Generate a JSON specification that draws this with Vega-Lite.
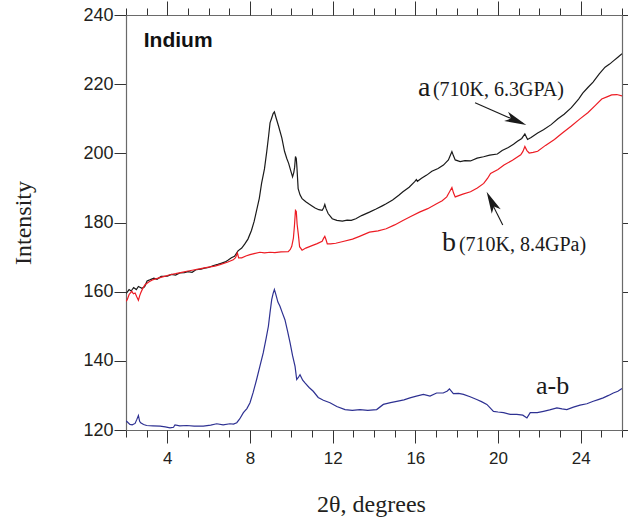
{
  "$schema": "https://vega.github.io/schema/vega-lite/v6.json",
  "autosize": {"type": "none"},
  "padding": {"left": 126, "top": 15, "right": 6, "bottom": 91},
  "width": 496,
  "height": 415,
  "background": "white",
  "config": {
    "view": {"stroke": null},
    "axis": {"grid": false, "domainColor": "#6a6a6a", "domainWidth": 1.2, "tickColor": "#333333", "tickWidth": 1, "labelColor": "#231f20", "labelFont": "Liberation Sans", "labelFlush": false, "labelOverlap": false, "titleColor": "#231f20"}
  },
  "datasets": {
    "a": [
      {"x":2.0,"y":159.5},{"x":2.05,"y":159.8},{"x":2.15,"y":160.6},{"x":2.25,"y":160.2},{"x":2.37,"y":161.2},{"x":2.5,"y":160.6},{"x":2.6,"y":161.5},{"x":2.77,"y":161.0},{"x":2.9,"y":161.4},{"x":3.02,"y":163.1},{"x":3.15,"y":163.4},{"x":3.35,"y":163.9},{"x":3.5,"y":163.6},{"x":3.7,"y":164.4},{"x":4.0,"y":164.5},{"x":4.2,"y":165.0},{"x":4.4,"y":164.8},{"x":4.6,"y":165.4},{"x":4.82,"y":165.5},{"x":5.0,"y":165.8},{"x":5.2,"y":165.6},{"x":5.4,"y":166.4},{"x":5.63,"y":166.5},{"x":5.8,"y":166.8},{"x":6.0,"y":167.0},{"x":6.2,"y":167.5},{"x":6.44,"y":167.9},{"x":6.6,"y":168.2},{"x":6.8,"y":168.6},{"x":6.93,"y":169.1},{"x":7.1,"y":169.8},{"x":7.25,"y":170.2},{"x":7.42,"y":171.8},{"x":7.6,"y":172.6},{"x":7.75,"y":173.8},{"x":7.9,"y":175.2},{"x":8.07,"y":177.7},{"x":8.2,"y":180.3},{"x":8.32,"y":183.5},{"x":8.45,"y":187.0},{"x":8.56,"y":191.3},{"x":8.7,"y":195.5},{"x":8.81,"y":200.5},{"x":8.9,"y":205.0},{"x":8.97,"y":208.8},{"x":9.05,"y":210.2},{"x":9.12,"y":211.5},{"x":9.18,"y":212.0},{"x":9.25,"y":210.5},{"x":9.38,"y":207.9},{"x":9.54,"y":204.5},{"x":9.67,"y":200.6},{"x":9.78,"y":198.5},{"x":9.87,"y":197.1},{"x":9.97,"y":195.0},{"x":10.06,"y":193.2},{"x":10.12,"y":194.5},{"x":10.16,"y":196.0},{"x":10.2,"y":199.1},{"x":10.24,"y":198.5},{"x":10.27,"y":196.0},{"x":10.33,"y":189.8},{"x":10.42,"y":188.0},{"x":10.52,"y":186.9},{"x":10.7,"y":186.0},{"x":10.84,"y":185.4},{"x":11.0,"y":184.8},{"x":11.15,"y":184.2},{"x":11.33,"y":183.7},{"x":11.49,"y":183.5},{"x":11.56,"y":184.2},{"x":11.62,"y":185.2},{"x":11.68,"y":184.0},{"x":11.78,"y":182.6},{"x":11.98,"y":181.1},{"x":12.2,"y":180.6},{"x":12.47,"y":180.4},{"x":12.7,"y":180.7},{"x":12.9,"y":180.6},{"x":13.12,"y":181.1},{"x":13.4,"y":182.0},{"x":13.78,"y":183.0},{"x":14.1,"y":183.9},{"x":14.4,"y":184.8},{"x":14.59,"y":185.4},{"x":14.9,"y":186.5},{"x":15.2,"y":187.9},{"x":15.4,"y":188.9},{"x":15.7,"y":190.2},{"x":15.97,"y":191.8},{"x":16.05,"y":192.4},{"x":16.1,"y":191.9},{"x":16.3,"y":192.8},{"x":16.55,"y":193.7},{"x":16.8,"y":194.8},{"x":17.1,"y":195.6},{"x":17.36,"y":196.6},{"x":17.6,"y":198.1},{"x":17.7,"y":199.5},{"x":17.77,"y":200.5},{"x":17.85,"y":199.2},{"x":17.93,"y":198.1},{"x":18.17,"y":197.6},{"x":18.4,"y":197.9},{"x":18.67,"y":197.8},{"x":18.99,"y":198.6},{"x":19.3,"y":199.0},{"x":19.6,"y":199.5},{"x":19.97,"y":199.8},{"x":20.2,"y":200.8},{"x":20.5,"y":201.7},{"x":20.75,"y":202.6},{"x":20.94,"y":203.5},{"x":21.15,"y":204.3},{"x":21.3,"y":205.6},{"x":21.43,"y":204.0},{"x":21.6,"y":204.6},{"x":21.92,"y":205.9},{"x":22.2,"y":206.8},{"x":22.57,"y":208.3},{"x":22.9,"y":210.0},{"x":23.2,"y":211.3},{"x":23.55,"y":213.2},{"x":23.9,"y":215.7},{"x":24.1,"y":217.4},{"x":24.36,"y":219.1},{"x":24.6,"y":220.6},{"x":24.9,"y":223.0},{"x":25.18,"y":224.9},{"x":25.4,"y":225.8},{"x":25.6,"y":226.8},{"x":25.8,"y":227.8},{"x":26.0,"y":228.8}
    ],
    "b": [
      {"x":2.0,"y":157.2},{"x":2.06,"y":157.7},{"x":2.15,"y":159.2},{"x":2.28,"y":160.1},{"x":2.36,"y":159.4},{"x":2.44,"y":159.6},{"x":2.52,"y":158.5},{"x":2.6,"y":157.5},{"x":2.66,"y":158.8},{"x":2.71,"y":159.6},{"x":2.8,"y":160.8},{"x":2.92,"y":162.0},{"x":3.1,"y":162.8},{"x":3.32,"y":163.5},{"x":3.6,"y":164.0},{"x":3.9,"y":164.5},{"x":4.13,"y":164.9},{"x":4.4,"y":165.2},{"x":4.7,"y":165.6},{"x":4.94,"y":165.9},{"x":5.2,"y":166.2},{"x":5.5,"y":166.5},{"x":5.74,"y":166.8},{"x":6.0,"y":167.1},{"x":6.3,"y":167.4},{"x":6.55,"y":167.8},{"x":6.9,"y":168.5},{"x":7.19,"y":169.2},{"x":7.3,"y":169.8},{"x":7.39,"y":171.2},{"x":7.45,"y":169.8},{"x":7.6,"y":169.8},{"x":7.8,"y":170.3},{"x":8.0,"y":170.7},{"x":8.2,"y":171.0},{"x":8.48,"y":171.4},{"x":8.7,"y":171.2},{"x":8.97,"y":171.4},{"x":9.2,"y":171.3},{"x":9.5,"y":171.5},{"x":9.85,"y":171.6},{"x":9.95,"y":172.2},{"x":10.02,"y":173.1},{"x":10.1,"y":175.5},{"x":10.15,"y":179.0},{"x":10.2,"y":183.5},{"x":10.24,"y":183.2},{"x":10.28,"y":179.5},{"x":10.34,"y":176.5},{"x":10.4,"y":173.0},{"x":10.52,"y":172.0},{"x":10.7,"y":172.6},{"x":11.0,"y":173.3},{"x":11.25,"y":173.9},{"x":11.49,"y":174.6},{"x":11.56,"y":175.4},{"x":11.62,"y":176.0},{"x":11.68,"y":175.0},{"x":11.74,"y":173.8},{"x":11.9,"y":173.8},{"x":12.15,"y":174.0},{"x":12.5,"y":174.5},{"x":12.96,"y":175.2},{"x":13.3,"y":176.0},{"x":13.78,"y":177.2},{"x":14.2,"y":177.6},{"x":14.59,"y":178.2},{"x":15.0,"y":179.3},{"x":15.4,"y":180.6},{"x":15.8,"y":181.8},{"x":16.2,"y":183.0},{"x":16.6,"y":184.0},{"x":17.03,"y":185.4},{"x":17.3,"y":186.3},{"x":17.52,"y":187.4},{"x":17.65,"y":188.8},{"x":17.77,"y":190.1},{"x":17.85,"y":188.5},{"x":17.93,"y":187.4},{"x":18.3,"y":188.2},{"x":18.67,"y":188.9},{"x":19.0,"y":190.0},{"x":19.31,"y":191.3},{"x":19.5,"y":192.8},{"x":19.64,"y":194.2},{"x":20.0,"y":195.3},{"x":20.29,"y":196.6},{"x":20.7,"y":198.0},{"x":21.1,"y":199.6},{"x":21.2,"y":200.5},{"x":21.3,"y":202.0},{"x":21.4,"y":200.8},{"x":21.51,"y":200.1},{"x":21.7,"y":200.3},{"x":21.92,"y":200.6},{"x":22.3,"y":202.3},{"x":22.73,"y":204.0},{"x":23.1,"y":205.8},{"x":23.55,"y":207.9},{"x":23.95,"y":209.9},{"x":24.36,"y":211.8},{"x":24.7,"y":213.8},{"x":25.02,"y":215.7},{"x":25.3,"y":216.4},{"x":25.5,"y":216.9},{"x":25.75,"y":217.0},{"x":26.0,"y":216.6}
    ],
    "ab": [
      {"x":2.0,"y":122.6},{"x":2.03,"y":122.5},{"x":2.19,"y":121.6},{"x":2.3,"y":121.5},{"x":2.44,"y":121.9},{"x":2.52,"y":123.0},{"x":2.6,"y":124.2},{"x":2.66,"y":122.5},{"x":2.71,"y":122.1},{"x":2.85,"y":121.6},{"x":3.0,"y":121.3},{"x":3.3,"y":121.2},{"x":3.65,"y":121.1},{"x":3.9,"y":120.9},{"x":4.13,"y":120.6},{"x":4.3,"y":120.8},{"x":4.37,"y":121.5},{"x":4.6,"y":121.2},{"x":4.94,"y":121.3},{"x":5.3,"y":121.1},{"x":5.74,"y":121.1},{"x":6.1,"y":121.4},{"x":6.39,"y":121.8},{"x":6.7,"y":121.5},{"x":7.03,"y":121.8},{"x":7.2,"y":121.7},{"x":7.36,"y":122.1},{"x":7.5,"y":123.2},{"x":7.68,"y":125.0},{"x":7.85,"y":126.2},{"x":8.0,"y":127.9},{"x":8.15,"y":130.8},{"x":8.32,"y":134.6},{"x":8.48,"y":138.5},{"x":8.64,"y":142.3},{"x":8.78,"y":146.5},{"x":8.89,"y":150.0},{"x":8.97,"y":154.0},{"x":9.05,"y":157.7},{"x":9.12,"y":159.5},{"x":9.18,"y":160.6},{"x":9.25,"y":159.2},{"x":9.35,"y":157.0},{"x":9.45,"y":155.8},{"x":9.57,"y":153.8},{"x":9.69,"y":151.9},{"x":9.82,"y":148.5},{"x":9.94,"y":145.2},{"x":10.06,"y":141.5},{"x":10.18,"y":138.4},{"x":10.26,"y":134.6},{"x":10.34,"y":135.2},{"x":10.42,"y":136.0},{"x":10.55,"y":134.4},{"x":10.66,"y":133.6},{"x":10.86,"y":132.3},{"x":11.06,"y":131.2},{"x":11.3,"y":129.4},{"x":11.55,"y":128.6},{"x":11.87,"y":127.9},{"x":12.2,"y":126.8},{"x":12.6,"y":125.9},{"x":12.95,"y":125.7},{"x":13.32,"y":125.9},{"x":13.7,"y":125.7},{"x":14.13,"y":125.9},{"x":14.45,"y":127.4},{"x":14.8,"y":127.9},{"x":15.1,"y":128.3},{"x":15.45,"y":128.7},{"x":15.74,"y":129.3},{"x":16.05,"y":129.8},{"x":16.39,"y":130.3},{"x":16.71,"y":129.8},{"x":17.03,"y":130.7},{"x":17.35,"y":130.7},{"x":17.55,"y":131.3},{"x":17.65,"y":131.9},{"x":17.84,"y":130.5},{"x":18.1,"y":130.6},{"x":18.33,"y":130.3},{"x":18.65,"y":129.6},{"x":18.97,"y":128.8},{"x":19.2,"y":128.2},{"x":19.46,"y":127.4},{"x":19.62,"y":126.4},{"x":19.78,"y":125.4},{"x":20.0,"y":125.2},{"x":20.27,"y":125.0},{"x":20.6,"y":124.5},{"x":20.91,"y":124.5},{"x":21.2,"y":124.3},{"x":21.4,"y":123.5},{"x":21.56,"y":125.0},{"x":21.9,"y":125.0},{"x":22.2,"y":125.4},{"x":22.5,"y":125.8},{"x":22.85,"y":126.4},{"x":23.1,"y":126.1},{"x":23.33,"y":125.9},{"x":23.65,"y":126.6},{"x":23.97,"y":127.2},{"x":24.3,"y":127.6},{"x":24.61,"y":128.3},{"x":24.85,"y":128.8},{"x":25.09,"y":129.3},{"x":25.35,"y":130.0},{"x":25.58,"y":130.7},{"x":25.8,"y":131.2},{"x":26.0,"y":132.0}
    ]
  },
  "layer": [
    {
      "data": {"name": "a"},
      "mark": {"type": "line", "color": "#1a1a1a", "strokeWidth": 1.2, "clip": true},
      "encoding": {
        "x": {"field": "x", "type": "quantitative", "scale": {"domain": [2, 26], "nice": false, "zero": false},
          "axis": {"orient": "bottom", "values": [4, 8, 12, 16, 20, 24], "tickSize": 13, "labelFontSize": 17, "labelPadding": 7,
            "title": "2θ, degrees", "titleFont": "Liberation Serif", "titleFontSize": 24, "titleFontWeight": "normal",
            "titleX": 245, "titleY": 81, "titleBaseline": "alphabetic", "titleAlign": "center", "titleAnchor": null}},
        "y": {"field": "y", "type": "quantitative", "scale": {"domain": [120, 240], "nice": false, "zero": false},
          "axis": {"orient": "left", "values": [120, 140, 160, 180, 200, 220, 240], "tickSize": 12, "labelFontSize": 18, "labelPadding": 1,
            "title": "Intensity", "titleFont": "Liberation Serif", "titleFontSize": 24, "titleFontWeight": "normal",
            "titleAngle": -90, "titleX": -96, "titleY": 207.5, "titleBaseline": "alphabetic", "titleAlign": "center", "titleAnchor": null}}
      }
    },
    {
      "data": {"name": "b"},
      "mark": {"type": "line", "color": "#ed1c24", "strokeWidth": 1.2, "clip": true},
      "encoding": {
        "x": {"field": "x", "type": "quantitative", "scale": {"domain": [2, 26], "nice": false, "zero": false},
          "axis": {"orient": "bottom", "values": [2,3,4,5,6,7,8,9,10,11,12,13,14,15,16,17,18,19,20,21,22,23,24,25,26], "tickSize": 7, "labels": false, "domain": false, "title": null}},
        "y": {"field": "y", "type": "quantitative", "scale": {"domain": [120, 240], "nice": false, "zero": false},
          "axis": {"orient": "right", "values": [120, 140, 160, 180, 200, 220, 240], "tickSize": 7, "labels": false, "domain": true, "title": null}}
      }
    },
    {
      "data": {"name": "ab"},
      "mark": {"type": "line", "color": "#2e3192", "strokeWidth": 1.2, "clip": true},
      "encoding": {
        "x": {"field": "x", "type": "quantitative", "scale": {"domain": [2, 26], "nice": false, "zero": false},
          "axis": {"orient": "top", "values": [2,3,4,5,6,7,8,9,10,11,12,13,14,15,16,17,18,19,20,21,22,23,24,25,26], "tickSize": 7, "labels": false, "domain": true, "title": null}},
        "y": {"field": "y", "type": "quantitative", "scale": {"domain": [120, 240], "nice": false, "zero": false}, "axis": null}
      }
    },
    {
      "data": {"values": [{"x": 2.86, "y": 230.8, "t": "Indium"}]},
      "mark": {"type": "text", "font": "Liberation Sans", "fontWeight": "bold", "fontSize": 21, "align": "left", "baseline": "alphabetic", "color": "#111111"},
      "encoding": {
        "x": {"field": "x", "type": "quantitative", "scale": {"domain": [2, 26], "nice": false, "zero": false},
          "axis": {"orient": "top", "values": [4, 8, 12, 16, 20, 24], "tickSize": 14, "labels": false, "domain": false, "title": null}},
        "y": {"field": "y", "type": "quantitative", "scale": {"domain": [120, 240], "nice": false, "zero": false}, "axis": null},
        "text": {"field": "t"}
      }
    },
    {
      "data": {"values": [{"x": 16.13, "y": 216.6, "t": "a"}, {"x": 17.29, "y": 171.8, "t": "b"}]},
      "mark": {"type": "text", "font": "Liberation Serif", "fontSize": 28, "align": "left", "baseline": "alphabetic", "color": "#1a1a1a"},
      "encoding": {
        "x": {"field": "x", "type": "quantitative", "scale": {"domain": [2, 26], "nice": false, "zero": false}, "axis": null},
        "y": {"field": "y", "type": "quantitative", "scale": {"domain": [120, 240], "nice": false, "zero": false}, "axis": null},
        "text": {"field": "t"}
      }
    },
    {
      "data": {"values": [{"x": 16.85, "y": 216.6, "t": "(710K, 6.3GPA)"}, {"x": 18.11, "y": 171.8, "t": "(710K, 8.4GPa)"}]},
      "mark": {"type": "text", "font": "Liberation Serif", "fontSize": 20, "align": "left", "baseline": "alphabetic", "color": "#1a1a1a"},
      "encoding": {
        "x": {"field": "x", "type": "quantitative", "scale": {"domain": [2, 26], "nice": false, "zero": false}, "axis": null},
        "y": {"field": "y", "type": "quantitative", "scale": {"domain": [120, 240], "nice": false, "zero": false}, "axis": null},
        "text": {"field": "t"}
      }
    },
    {
      "data": {"values": [{"x": 21.84, "y": 130.3, "t": "a-b"}]},
      "mark": {"type": "text", "font": "Liberation Serif", "fontSize": 26, "align": "left", "baseline": "alphabetic", "color": "#1a1a1a"},
      "encoding": {
        "x": {"field": "x", "type": "quantitative", "scale": {"domain": [2, 26], "nice": false, "zero": false}, "axis": null},
        "y": {"field": "y", "type": "quantitative", "scale": {"domain": [120, 240], "nice": false, "zero": false}, "axis": null},
        "text": {"field": "t"}
      }
    },
    {
      "data": {"values": [{"x": 18.89, "y": 214.6, "x2": 21.2, "y2": 208.6}, {"x": 20.23, "y": 179.3, "x2": 19.55, "y2": 187.4}]},
      "mark": {"type": "rule", "color": "#1a1a1a", "strokeWidth": 1.1},
      "encoding": {
        "x": {"field": "x", "type": "quantitative", "scale": {"domain": [2, 26], "nice": false, "zero": false}, "axis": null},
        "y": {"field": "y", "type": "quantitative", "scale": {"domain": [120, 240], "nice": false, "zero": false}, "axis": null},
        "x2": {"field": "x2"},
        "y2": {"field": "y2"}
      }
    },
    {
      "data": {"values": [{"x": 21.37, "y": 208.2}]},
      "mark": {"type": "point", "shape": "M0,0L0.5,2.2L0,1.65L-0.5,2.2Z", "size": 400, "angle": 113, "filled": true, "color": "#1a1a1a", "opacity": 1, "strokeWidth": 0},
      "encoding": {
        "x": {"field": "x", "type": "quantitative", "scale": {"domain": [2, 26], "nice": false, "zero": false}, "axis": null},
        "y": {"field": "y", "type": "quantitative", "scale": {"domain": [120, 240], "nice": false, "zero": false}, "axis": null}
      }
    },
    {
      "data": {"values": [{"x": 19.45, "y": 188.9}]},
      "mark": {"type": "point", "shape": "M0,0L0.5,2.2L0,1.65L-0.5,2.2Z", "size": 400, "angle": 334, "filled": true, "color": "#1a1a1a", "opacity": 1, "strokeWidth": 0},
      "encoding": {
        "x": {"field": "x", "type": "quantitative", "scale": {"domain": [2, 26], "nice": false, "zero": false}, "axis": null},
        "y": {"field": "y", "type": "quantitative", "scale": {"domain": [120, 240], "nice": false, "zero": false}, "axis": null}
      }
    }
  ],
  "resolve": {"axis": {"x": "independent", "y": "independent"}}
}
